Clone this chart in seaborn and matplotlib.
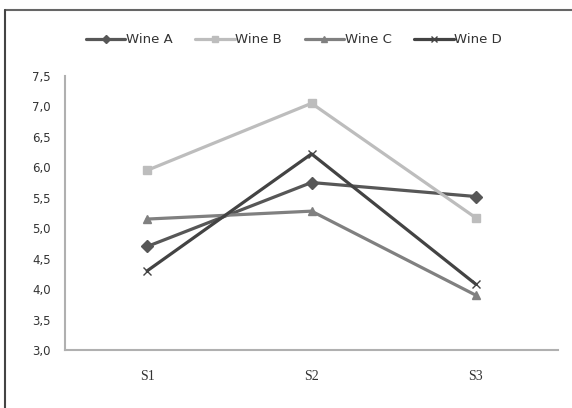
import numpy as np
import pandas as pd
import seaborn as sns
import matplotlib.pyplot as plt
from matplotlib.lines import Line2D
from matplotlib.ticker import FuncFormatter

samples = ['S1', 'S2', 'S3']
wines = ['Wine A', 'Wine B', 'Wine C', 'Wine D']
wine_a = [4.70, 5.75, 5.52]
wine_b = [5.95, 7.05, 5.17]
wine_c = [5.15, 5.28, 3.90]
wine_d = [4.30, 6.22, 4.08]

colors = {'Wine A': '#575757', 'Wine B': '#bdbdbd', 'Wine C': '#808080', 'Wine D': '#434343'}
markers = {'Wine A': 'D', 'Wine B': 's', 'Wine C': '^', 'Wine D': 'x'}

rows = []
for name, vals in zip(wines, [wine_a, wine_b, wine_c, wine_d]):
    for i, v in enumerate(vals):
        rows.append({'pos': i, 'sample': samples[i], 'wine': name, 'value': v})
df = pd.DataFrame(rows)

sns.set_style('white')
fig = plt.figure(figsize=(5.72, 4.08), dpi=100)
ax = fig.add_axes([0.1136, 0.142, 0.862, 0.672])

# one call per wine: filled and line markers can't be mixed in one lineplot
for name in wines:
    sub = df[df['wine'] == name]
    sns.lineplot(data=sub, x='pos', y='value', color=colors[name], marker=markers[name],
                 linewidth=2.3, markersize=6, markeredgewidth=1.0,
                 markeredgecolor=colors[name], label=name, ax=ax)

ax.set_xlim(-0.5, 2.5)
ax.set_ylim(3.0, 7.5)
ax.set_yticks(np.arange(3.0, 7.51, 0.5))
ax.yaxis.set_major_formatter(FuncFormatter(lambda v, p: f'{v:.1f}'.replace('.', ',')))
ax.set_xticks([-0.5, 0.5, 1.5, 2.5])
ax.set_xticklabels([])
ax.set_xticks([0, 1, 2], minor=True)
ax.set_xticklabels(samples, minor=True, fontsize=10, color='#333333', family='Liberation Serif')
ax.tick_params(axis='x', which='minor', length=0, pad=14)
ax.tick_params(axis='x', which='major', length=4, color='#b0b0b0', width=1)
ax.tick_params(axis='y', length=4, color='#b0b0b0', width=1, labelsize=8.5, labelcolor='#333333', pad=6)
ax.set_xlabel('')
ax.set_ylabel('')

for side in ['top', 'right']:
    ax.spines[side].set_visible(False)
for side in ['left', 'bottom']:
    ax.spines[side].set_color('#b0b0b0')
    ax.spines[side].set_linewidth(1.5)

ax.legend(loc='center', bbox_to_anchor=(0.514, 0.902), bbox_transform=fig.transFigure,
          ncol=4, frameon=False, fontsize=9.5, handlelength=3.0, handletextpad=0.05,
          columnspacing=1.7, markerscale=0.7, labelcolor='#333333', borderpad=0)

# outer chart frame: only top and left edges are in view
fig.add_artist(Line2D([5 / 572, 1.0], [1 - 10 / 408, 1 - 10 / 408],
                      transform=fig.transFigure, color='#666666', linewidth=1.5))
fig.add_artist(Line2D([5 / 572, 5 / 572], [0.0, 1 - 10 / 408],
                      transform=fig.transFigure, color='#444444', linewidth=1.5))

fig.savefig('out.png', dpi=100)
